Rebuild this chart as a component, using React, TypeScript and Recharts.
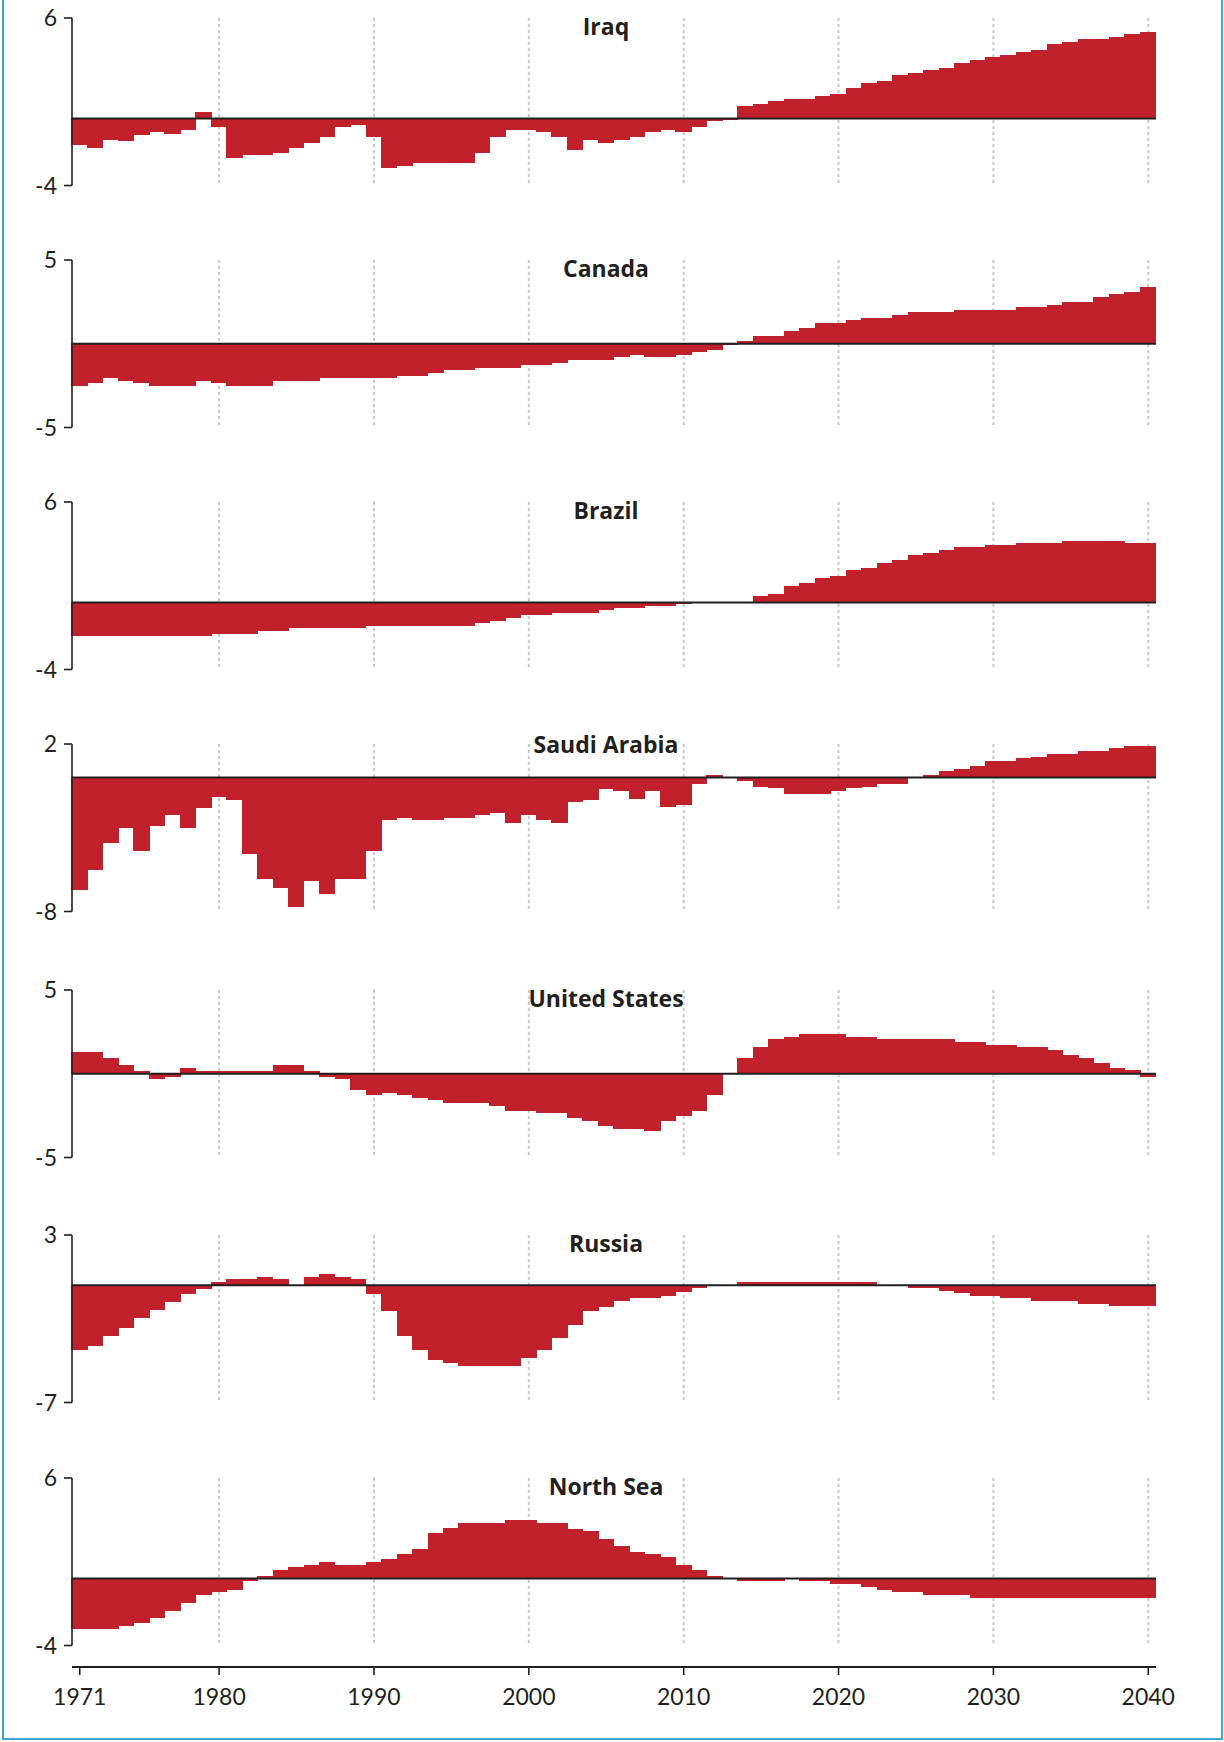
import { BarChart, Bar, XAxis, YAxis, CartesianGrid, ReferenceLine } from 'recharts';

// categories
const YEARS = [
  1971, 1972, 1973, 1974, 1975, 1976, 1977, 1978, 1979, 1980,
  1981, 1982, 1983, 1984, 1985, 1986, 1987, 1988, 1989, 1990,
  1991, 1992, 1993, 1994, 1995, 1996, 1997, 1998, 1999, 2000,
  2001, 2002, 2003, 2004, 2005, 2006, 2007, 2008, 2009, 2010,
  2011, 2012, 2013, 2014, 2015, 2016, 2017, 2018, 2019, 2020,
  2021, 2022, 2023, 2024, 2025, 2026, 2027, 2028, 2029, 2030,
  2031, 2032, 2033, 2034, 2035, 2036, 2037, 2038, 2039, 2040,
];
const GRID_YEARS = [1980, 1990, 2000, 2010, 2020, 2030, 2040];
const AXIS_YEARS = [1971, 1980, 1990, 2000, 2010, 2020, 2030, 2040];

// series values, one per year
const IRAQ = [
  -1.54, -1.7, -1.22, -1.28, -0.92, -0.76, -0.86, -0.62, 0.32, -0.44,
  -2.3, -2.14, -2.14, -2.0, -1.7, -1.4, -1.04, -0.46, -0.32, -1.04,
  -2.9, -2.78, -2.62, -2.62, -2.62, -2.62, -2.02, -1.06, -0.64, -0.64,
  -0.76, -1.06, -1.84, -1.22, -1.4, -1.24, -1.04, -0.76, -0.62, -0.76,
  -0.44, -0.14, -0.04, 0.68, 0.8, 0.98, 1.1, 1.1, 1.28, 1.4,
  1.76, 2.06, 2.18, 2.54, 2.66, 2.84, 2.96, 3.26, 3.44, 3.62,
  3.74, 3.92, 4.04, 4.4, 4.52, 4.7, 4.7, 4.82, 5.0, 5.12,
];
const CANADA = [
  -2.46, -2.3, -1.98, -2.18, -2.3, -2.46, -2.46, -2.46, -2.18, -2.3,
  -2.46, -2.46, -2.46, -2.18, -2.18, -2.18, -1.98, -1.98, -1.98, -1.98,
  -1.98, -1.86, -1.86, -1.68, -1.5, -1.5, -1.39, -1.39, -1.39, -1.21,
  -1.21, -1.09, -0.91, -0.91, -0.91, -0.73, -0.63, -0.73, -0.73, -0.63,
  -0.46, -0.32, -0.04, 0.12, 0.44, 0.44, 0.73, 0.91, 1.21, 1.21,
  1.39, 1.5, 1.5, 1.68, 1.86, 1.86, 1.86, 1.98, 1.98, 1.98,
  1.98, 2.16, 2.16, 2.28, 2.46, 2.46, 2.75, 2.93, 3.05, 3.35,
];
const BRAZIL = [
  -1.96, -1.96, -1.96, -1.96, -1.96, -1.96, -1.96, -1.96, -1.96, -1.84,
  -1.84, -1.84, -1.66, -1.66, -1.49, -1.49, -1.49, -1.49, -1.49, -1.37,
  -1.37, -1.37, -1.37, -1.37, -1.37, -1.37, -1.19, -1.07, -0.89, -0.71,
  -0.71, -0.59, -0.59, -0.59, -0.42, -0.3, -0.3, -0.16, -0.16, -0.05,
  0, 0, 0, 0, 0.34, 0.46, 0.93, 1.11, 1.4, 1.52,
  1.88, 2.0, 2.3, 2.48, 2.77, 2.89, 3.07, 3.25, 3.25, 3.37,
  3.37, 3.54, 3.54, 3.54, 3.66, 3.66, 3.66, 3.66, 3.54, 3.54,
];
const SAUDI = [
  -6.65, -5.46, -3.9, -2.96, -4.33, -2.84, -2.18, -2.96, -1.77, -1.11,
  -1.29, -4.5, -6.05, -6.53, -7.72, -6.17, -6.94, -6.05, -6.05, -4.33,
  -2.48, -2.36, -2.48, -2.48, -2.36, -2.36, -2.18, -2.06, -2.66, -2.18,
  -2.48, -2.66, -1.41, -1.29, -0.63, -0.79, -1.26, -0.79, -1.74, -1.58,
  -0.32, 0.13, 0, -0.18, -0.53, -0.6, -0.97, -0.97, -0.97, -0.79,
  -0.6, -0.5, -0.32, -0.32, 0, 0.13, 0.32, 0.45, 0.63, 0.92,
  0.92, 1.1, 1.21, 1.39, 1.39, 1.55, 1.55, 1.71, 1.87, 1.87,
];
const US = [
  1.24, 1.24, 0.92, 0.46, 0.14, -0.3, -0.16, 0.3, 0.14, 0.14,
  0.14, 0.14, 0.14, 0.46, 0.46, 0.14, -0.16, -0.3, -0.94, -1.24,
  -1.1, -1.24, -1.39, -1.55, -1.69, -1.69, -1.69, -1.87, -2.17, -2.17,
  -2.31, -2.31, -2.61, -2.77, -3.09, -3.23, -3.23, -3.4, -2.79, -2.49,
  -2.17, -1.24, 0, 0.92, 1.53, 2.01, 2.15, 2.31, 2.31, 2.31,
  2.17, 2.17, 2.01, 2.01, 2.01, 2.01, 2.01, 1.87, 1.87, 1.69,
  1.69, 1.53, 1.53, 1.39, 1.08, 0.92, 0.62, 0.3, 0.16, -0.14,
];
const RUSSIA = [
  -3.84, -3.57, -2.97, -2.49, -1.89, -1.41, -0.94, -0.46, -0.16, 0.14,
  0.32, 0.32, 0.44, 0.32, 0, 0.44, 0.62, 0.44, 0.32, -0.46,
  -1.51, -2.97, -3.84, -4.44, -4.62, -4.76, -4.76, -4.76, -4.76, -4.32,
  -3.84, -3.09, -2.31, -1.51, -1.24, -0.92, -0.71, -0.71, -0.58, -0.34,
  -0.13, 0, 0, 0.13, 0.13, 0.13, 0.13, 0.13, 0.13, 0.13,
  0.13, 0.13, 0, 0, -0.13, -0.13, -0.31, -0.45, -0.6, -0.6,
  -0.71, -0.71, -0.89, -0.89, -0.89, -1.1, -1.1, -1.21, -1.21, -1.21,
];
const NORTH_SEA = [
  -2.96, -2.96, -2.96, -2.78, -2.62, -2.3, -1.88, -1.4, -0.94, -0.74,
  -0.62, -0.14, 0.12, 0.44, 0.62, 0.74, 0.92, 0.74, 0.74, 0.92,
  1.1, 1.4, 1.7, 2.66, 2.96, 3.26, 3.26, 3.26, 3.44, 3.44,
  3.26, 3.26, 2.94, 2.78, 2.3, 1.88, 1.52, 1.4, 1.22, 0.74,
  0.44, 0.14, 0, -0.12, -0.12, -0.12, 0, -0.12, -0.12, -0.3,
  -0.3, -0.44, -0.62, -0.74, -0.74, -0.92, -0.92, -0.92, -1.1, -1.1,
  -1.1, -1.1, -1.1, -1.1, -1.1, -1.1, -1.1, -1.1, -1.1, -1.1,
];

const PANELS = [
  { title: 'Iraq', values: IRAQ, min: -4, max: 6 },
  { title: 'Canada', values: CANADA, min: -5, max: 5 },
  { title: 'Brazil', values: BRAZIL, min: -4, max: 6 },
  { title: 'Saudi Arabia', values: SAUDI, min: -8, max: 2 },
  { title: 'United States', values: US, min: -5, max: 5 },
  { title: 'Russia', values: RUSSIA, min: -7, max: 3 },
  { title: 'North Sea', values: NORTH_SEA, min: -4, max: 6 },
];

// layout
const W = 1224;
const PLOT_LEFT = 72;
const PLOT_RIGHT_MARGIN = 68;
const PLOT_H = 167.5;
const PAD = 22;
const PANEL_TOPS = [18.3, 260, 501.7, 744.3, 990, 1235, 1478.3];
const TITLE_BASELINE = [16.7, 16.7, 16.7, 9, 16.7, 16.7, 16.7];
const AXIS_Y = 1666.7;

const RED = '#c0212a';
const INK = '#231f20';
const FONT = 'Lato, "Noto Sans", sans-serif';
const TITLE_FONT = '"Open Sans", Lato, sans-serif';

function Panel({ title, values, min, max, top, titleY }: {
  title: string; values: number[]; min: number; max: number; top: number; titleY: number;
}) {
  const data = YEARS.map((year, i) => ({ year, value: values[i] }));
  return (
    <div style={{ position: 'absolute', left: 0, top: top - PAD, width: W, height: PLOT_H + 2 * PAD }}>
      <BarChart width={W} height={PLOT_H + 2 * PAD} data={data}
        margin={{ top: PAD, right: PLOT_RIGHT_MARGIN, bottom: PAD, left: 0 }}
        barCategoryGap={0} barGap={0}>
        <CartesianGrid horizontal={false} syncWithTicks stroke="#c8c8c8" strokeWidth={2} strokeDasharray="3 3" />
        <XAxis dataKey="year" hide ticks={GRID_YEARS} interval={0} />
        <YAxis domain={[min, max]} ticks={[min, max]} interval={0} width={PLOT_LEFT}
          axisLine={{ stroke: INK, strokeWidth: 1.6 }} tickLine={{ stroke: INK, strokeWidth: 1.6 }}
          tickSize={8} tickMargin={7}
          tick={{ fill: INK, fontSize: 23, fontFamily: FONT }} />
        <Bar dataKey="value" fill={RED} stroke={RED} strokeWidth={1.3}
          shapeRendering="crispEdges" isAnimationActive={false} />
        <ReferenceLine y={0} stroke={INK} strokeWidth={2} />
      </BarChart>
      <svg width={W} height={40} style={{ position: 'absolute', left: 0, top: PAD - 20, overflow: 'visible' }}>
        <text x={606} y={20 + titleY} textAnchor="middle" fill={INK}
          style={{ fontFamily: TITLE_FONT, fontWeight: 700, fontSize: 23 }}>{title}</text>
      </svg>
    </div>
  );
}

function YearAxis() {
  const data = YEARS.map((year) => ({ year }));
  const h = 20;
  return (
    <div style={{ position: 'absolute', left: 0, top: AXIS_Y - h }}>
      <BarChart width={W} height={h + 70} data={data}
        margin={{ top: 0, right: PLOT_RIGHT_MARGIN, bottom: 0, left: PLOT_LEFT }}>
        <XAxis dataKey="year" ticks={AXIS_YEARS} interval={0} height={70}
          axisLine={{ stroke: INK, strokeWidth: 2 }} tickLine={{ stroke: INK, strokeWidth: 1.6 }}
          tickSize={8} tickMargin={14}
          tick={{ fill: INK, fontSize: 23, fontFamily: FONT }} />
      </BarChart>
    </div>
  );
}

export default function App() {
  return (
    <div style={{ position: 'absolute', left: 0, top: 0, width: W, height: 1742, background: '#fff' }}>
      <div style={{
        position: 'absolute', left: 2, top: 0, width: 1217, height: 1738,
        borderLeft: '2px solid #3ea6de', borderRight: '2px solid #3ea6de', borderBottom: '2px solid #3ea6de',
      }} />
      {PANELS.map((p, k) => (
        <Panel key={p.title} title={p.title} values={p.values} min={p.min} max={p.max}
          top={PANEL_TOPS[k]} titleY={TITLE_BASELINE[k]} />
      ))}
      <YearAxis />
    </div>
  );
}
